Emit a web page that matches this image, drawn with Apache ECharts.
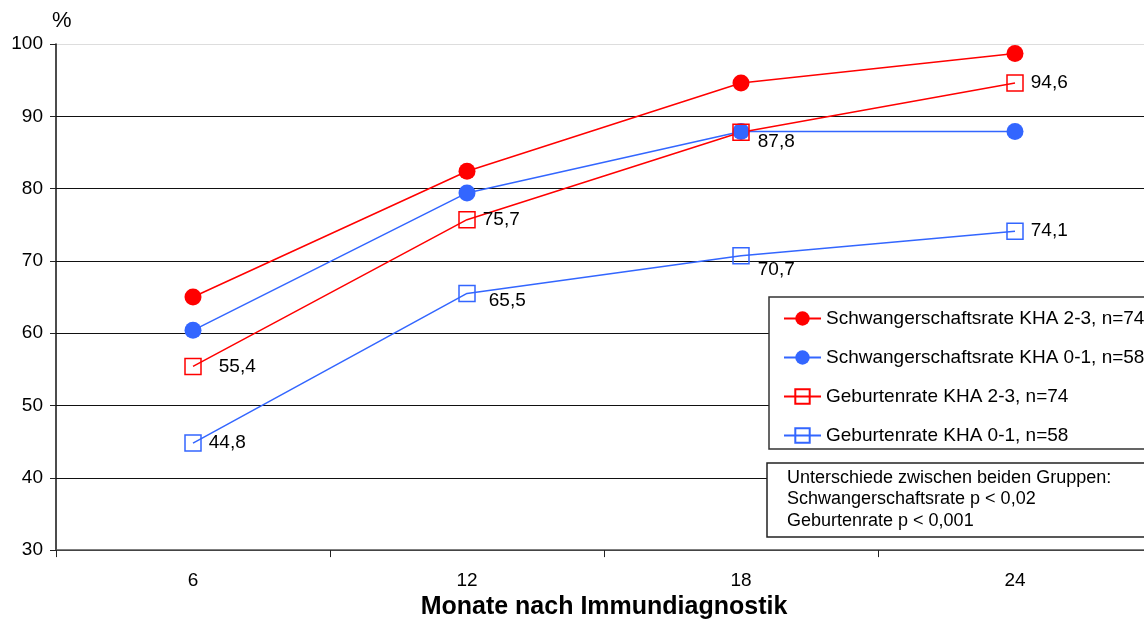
<!DOCTYPE html>
<html>
<head>
<meta charset="utf-8">
<script src="https://cdn.jsdelivr.net/npm/echarts@6/dist/echarts.min.js"></script>
<style>
  * { margin: 0; padding: 0; }
  body { background: #fff; overflow: hidden; }
</style>
</head>
<body>
<!-- container is a bit wider than the window: the plot runs past the right edge -->
<div id="main" style="width: 1152px; height: 625px;"></div>
<script>
  // data
  var months = ['6', '12', '18', '24']
  var yTicks = [30, 40, 50, 60, 70, 80, 90, 100]
  var schwKha23 = [65.0, 82.4, 94.6, 98.7]
  var schwKha01 = [60.4, 79.4, 87.9, 87.9]
  var gebKha23 = [55.4, 75.7, 87.8, 94.6]
  var gebKha01 = [44.8, 65.5, 70.7, 74.1]
  var seriesNames = [
    'Schwangerschaftsrate KHA 2-3, n=74',
    'Schwangerschaftsrate KHA 0-1, n=58',
    'Geburtenrate KHA 2-3, n=74',
    'Geburtenrate KHA 0-1, n=58'
  ]
  var noteLines = [
    'Unterschiede zwischen beiden Gruppen:',
    'Schwangerschaftsrate p < 0,02',
    'Geburtenrate p < 0,001'
  ]

  // label nudges for the open squares
  var shift23 = [[12, 0], [2, 0], [3, 10], [2, 0]]
  var shift01 = [[2, 0], [8, 7], [3, 14], [2, 0]]

  var RED = '#ff0000'
  var BLUE = '#3366ff'
  var FONT = '"Liberation Sans", Arial, sans-serif'

  function comma(p) {
    return String(p.value).replace('.', ',')
  }

  function labelled(values, shifts) {
    return values.map(function (v, i) {
      return { value: v, label: { offset: shifts[i] } }
    })
  }

  function filledLine(name, color, data) {
    return {
      name: name,
      type: 'line',
      data: data,
      color: color,
      symbol: 'circle',
      symbolSize: 17,
      lineStyle: { color: color, width: 1.5 },
      itemStyle: { color: color },
      emphasis: { disabled: true },
      animation: false
    }
  }

  function openLine(name, color, data, shifts) {
    return {
      name: name,
      type: 'line',
      data: labelled(data, shifts),
      color: color,
      symbol: 'rect',
      symbolSize: 16,
      lineStyle: { color: color, width: 1.5 },
      itemStyle: { color: 'rgba(255,255,255,0)', borderColor: color, borderWidth: 1.5 },
      label: {
        show: true,
        position: 'right',
        distance: 5,
        color: '#000',
        fontSize: 19,
        fontFamily: FONT,
        formatter: comma
      },
      emphasis: { disabled: true },
      animation: false
    }
  }

  var gridColors = yTicks.map(function (t) {
    return t === 100 ? '#dddddd' : '#111111'
  })

  var chart = echarts.init(document.getElementById('main'))
  chart.setOption({
    backgroundColor: '#fff',
    textStyle: { fontFamily: FONT },
    grid: { left: 56, right: 0, top: 44, bottom: 71, containLabel: false },
    xAxis: {
      type: 'category',
      data: months,
      boundaryGap: true,
      axisLine: { lineStyle: { color: '#555', width: 1.5 } },
      axisTick: { show: true, length: 7, alignWithLabel: false, lineStyle: { color: '#222' } },
      axisLabel: { color: '#000', fontSize: 19, margin: 21 },
      name: 'Monate nach Immundiagnostik',
      nameLocation: 'middle',
      nameGap: 42,
      nameTextStyle: { color: '#000', fontSize: 25, fontWeight: 'bold' },
      splitLine: { show: false }
    },
    yAxis: {
      type: 'value',
      min: 30,
      max: 100,
      interval: 10,
      axisLine: { show: true, lineStyle: { color: '#111', width: 1.5 } },
      axisTick: { show: true, length: 6, lineStyle: { color: '#222' } },
      axisLabel: { color: '#000', fontSize: 19, margin: 13 },
      splitLine: { show: true, lineStyle: { color: gridColors, width: 1.2 } }
    },
    legend: {
      orient: 'vertical',
      left: 778,
      top: 304,
      itemWidth: 37,
      itemHeight: 18,
      itemGap: 20,
      data: seriesNames,
      textStyle: { color: '#000', fontSize: 19 },
      z: 10
    },
    graphic: [
      {
        type: 'text',
        left: 52,
        top: 10,
        style: { text: '%', fill: '#000', font: '22px ' + FONT }
      },
      {
        type: 'rect',
        z: 8,
        shape: { x: 769, y: 297, width: 420, height: 152 },
        style: { fill: '#fff', stroke: '#333', lineWidth: 1.5 }
      },
      {
        type: 'rect',
        z: 8,
        shape: { x: 767, y: 463, width: 420, height: 74 },
        style: { fill: '#fff', stroke: '#222', lineWidth: 1.5 }
      },
      {
        type: 'text',
        z: 9,
        x: 787,
        y: 467,
        style: {
          text: noteLines.join('\n'),
          fill: '#000',
          font: '18px ' + FONT,
          lineHeight: 21.5
        }
      }
    ],
    series: [
      filledLine(seriesNames[0], RED, schwKha23),
      filledLine(seriesNames[1], BLUE, schwKha01),
      openLine(seriesNames[2], RED, gebKha23, shift23),
      openLine(seriesNames[3], BLUE, gebKha01, shift01)
    ]
  })
</script>
</body>
</html>
